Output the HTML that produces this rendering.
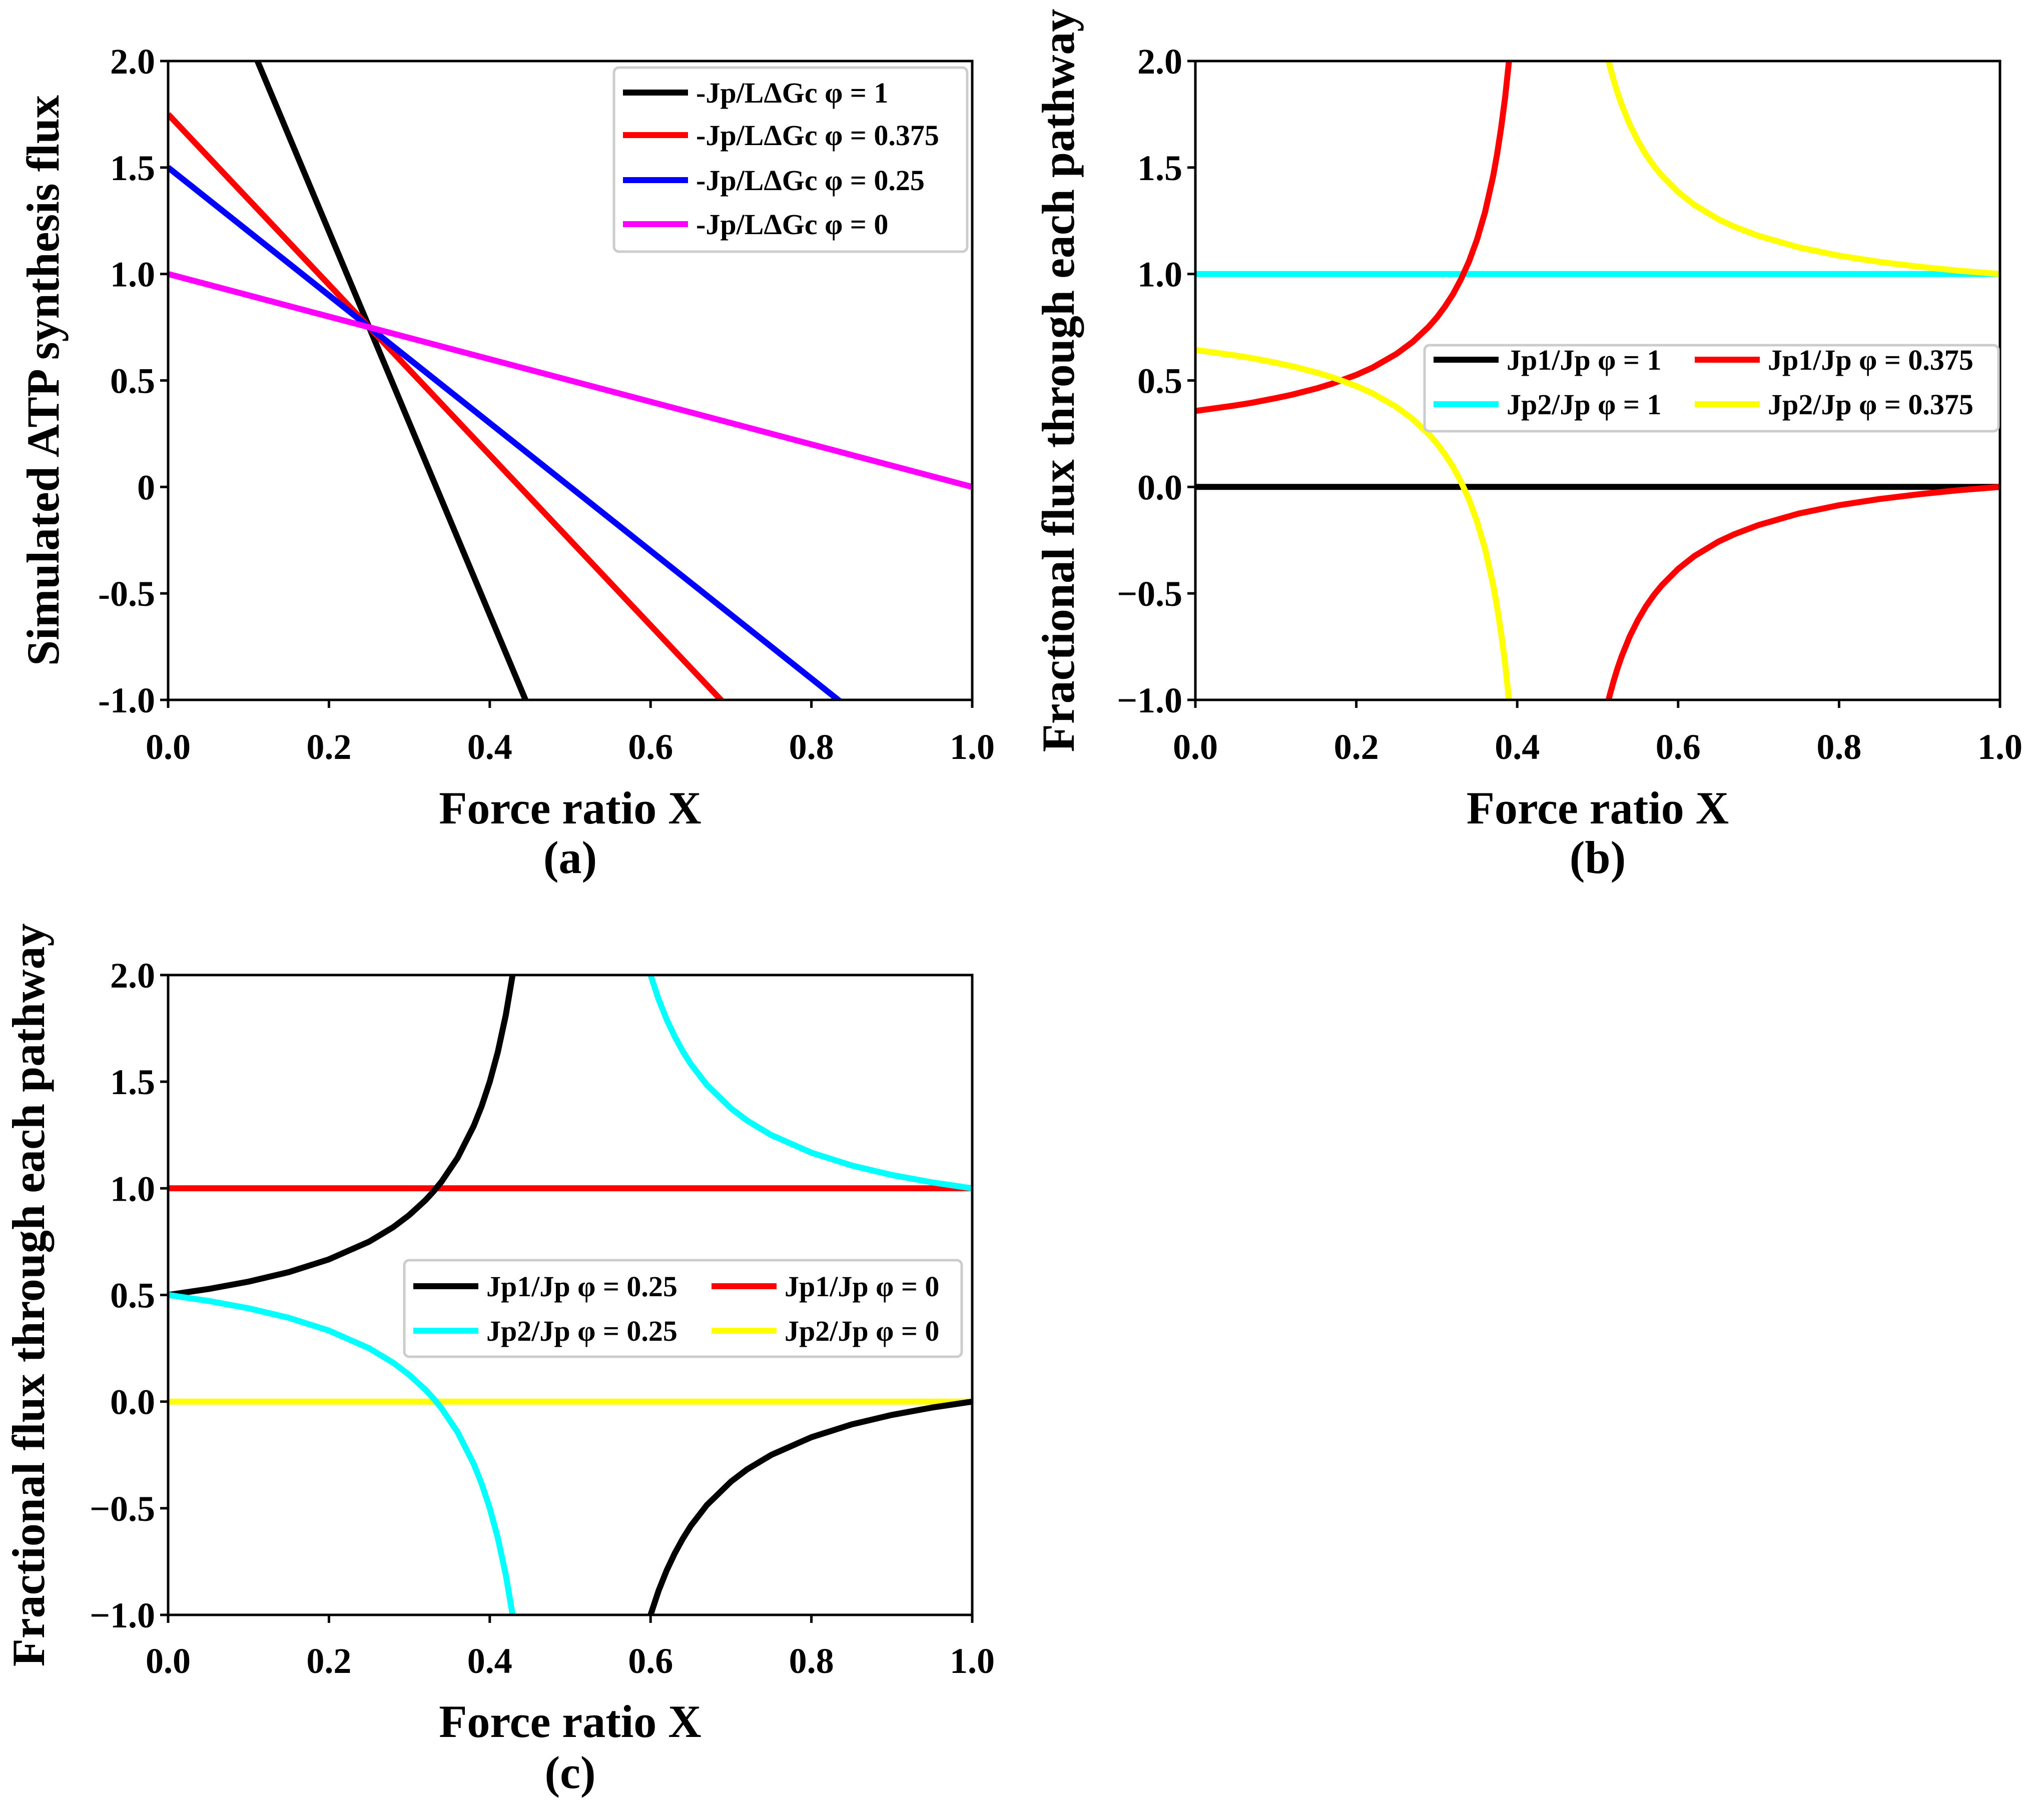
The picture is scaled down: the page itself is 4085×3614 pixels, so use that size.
<!DOCTYPE html>
<html><head><meta charset="utf-8">
<style>
html,body{margin:0;padding:0;background:#fff;}
svg{display:block;font-family:"Liberation Serif",serif;font-weight:bold;}
</style></head>
<body>
<svg id="fig" width="4085" height="3614" viewBox="0 0 4085 3614" xmlns="http://www.w3.org/2000/svg"></svg>
<script>
// ---- Panel (a) data: linear fluxes, endpoints (X, value)
const aX = [0, 1];
const aPhi1 = [3, -6];
const aPhi0375 = [1.75, -2.25];
const aPhi025 = [1.5, -1.5];
const aPhi0 = [1, 0];
const aYTicks = ["-1.0","-0.5","0","0.5","1.0","1.5","2.0"];
// ---- Panel (b) data, phi = 0.375
const bXLeft = [0,0.02,0.05,0.07,0.1,0.12,0.15,0.17,0.2,0.22,0.25,0.27,0.29,0.3,0.31,0.32,0.33,0.34,0.35,0.36,0.37,0.375,0.38,0.385,0.39];
const bJp1Left = [0.357,0.367,0.383,0.395,0.417,0.433,0.462,0.485,0.526,0.560,0.625,0.681,0.752,0.795,0.846,0.904,0.974,1.058,1.161,1.290,1.458,1.5625,1.685,1.830,2.007];
const bJp2Left = [0.643,0.633,0.617,0.605,0.583,0.567,0.538,0.515,0.474,0.440,0.375,0.319,0.248,0.205,0.154,0.096,0.026,-0.058,-0.161,-0.290,-0.458,-0.5625,-0.685,-0.830,-1.007];
const bXRight = [0.51,0.515,0.52,0.525,0.53,0.54,0.55,0.56,0.57,0.58,0.6,0.62,0.65,0.67,0.7,0.75,0.8,0.85,0.9,0.95,1.0];
const bJp1Right = [-1.056,-0.978,-0.909,-0.848,-0.794,-0.701,-0.625,-0.561,-0.507,-0.461,-0.385,-0.325,-0.257,-0.222,-0.179,-0.125,-0.086,-0.057,-0.034,-0.015,0];
const bJp2Right = [2.056,1.978,1.909,1.848,1.794,1.701,1.625,1.561,1.507,1.461,1.385,1.325,1.257,1.222,1.179,1.125,1.086,1.057,1.034,1.015,1.0];
const bXFlat = [0, 1];
const bJp1Phi1 = [0, 0];
const bJp2Phi1 = [1, 1];
// ---- Panel (c) data, phi = 0.25
const cXLeft = [0,0.05,0.1,0.15,0.2,0.25,0.28,0.3,0.32,0.33,0.34,0.36,0.38,0.39,0.4,0.41,0.42,0.43];
const cJp1Left = [0.5,0.528,0.5625,0.607,0.667,0.75,0.818,0.875,0.944,0.985,1.031,1.143,1.292,1.386,1.5,1.639,1.8125,2.036];
const cJp2Left = [0.5,0.472,0.4375,0.393,0.333,0.25,0.182,0.125,0.056,0.015,-0.031,-0.143,-0.292,-0.386,-0.5,-0.639,-0.8125,-1.036];
const cXRight = [0.6,0.61,0.62,0.63,0.64,0.65,0.67,0.7,0.72,0.75,0.8,0.85,0.9,0.95,1.0];
const cJp1Right = [-1.0,-0.886,-0.792,-0.712,-0.643,-0.583,-0.485,-0.375,-0.318,-0.25,-0.167,-0.107,-0.0625,-0.028,0];
const cJp2Right = [2.0,1.886,1.792,1.712,1.643,1.583,1.485,1.375,1.318,1.25,1.167,1.107,1.0625,1.028,1.0];
const cXFlat = [0, 1];
const cJp1Phi0 = [1, 1];
const cJp2Phi0 = [0, 0];
const bcYTicks = ["\u22121.0","\u22120.5","0.0","0.5","1.0","1.5","2.0"];
const xTicks = ["0.0","0.2","0.4","0.6","0.8","1.0"];

const NS = "http://www.w3.org/2000/svg";
const fig = document.getElementById('fig');
function mk(tag, attrs, parent){
  const e = document.createElementNS(NS, tag);
  for (const k in attrs) e.setAttribute(k, attrs[k]);
  (parent||fig).appendChild(e);
  return e;
}

function panel(id, L, R, T, B, yTicks, ylabel, ylabelX, title, tickY, labY, capY){
  const g = mk('g', {});
  
  
  const sx = v => L + (R - L) * v;
  const sy = v => B - (B - T) * (v + 1) / 3;
  const cp = mk('clipPath', {id: 'clip-' + id}, g);
  mk('rect', {x: L, y: T, width: R - L, height: B - T}, cp);
  const plot = mk('g', {'clip-path': 'url(#clip-' + id + ')'}, g);
  
  
  xTicks.forEach((t, i) => {
    const v = i * 0.2, x = sx(v);
    const tk = mk('line', {x1: x, x2: x, y1: B, y2: B + 16, stroke: '#000', 'stroke-width': 5}, g);
    
    
    const tx = mk('text', {x: x, y: tickY, 'font-size': 72, 'text-anchor': 'middle'}, g);
    tx.textContent = t;
    
    
  });
  yTicks.forEach((t, i) => {
    const v = -1 + i * 0.5, y = sy(v);
    const tk = mk('line', {x1: L - 16, x2: L, y1: y, y2: y, stroke: '#000', 'stroke-width': 5}, g);
    
    
    const tx = mk('text', {x: L - 26, y: y + 25, 'font-size': 72, 'text-anchor': 'end'}, g);
    tx.textContent = t;
    
    
  });
  const yl = mk('text', {x: ylabelX, y: (T + B) / 2, 'font-size': 92, 'text-anchor': 'middle',
    transform: 'rotate(-90 ' + ylabelX + ' ' + (T + B) / 2 + ')', 'dominant-baseline': 'central'}, g);
  yl.textContent = ylabel;
  
  
  const xl = mk('text', {x: (L + R) / 2, y: labY, 'font-size': 92, 'text-anchor': 'middle'}, g);
  xl.textContent = 'Force ratio X';
  
  
  const cap = mk('text', {x: (L + R) / 2, y: capY, 'font-size': 92, 'text-anchor': 'middle'}, g);
  cap.textContent = title;
  
  
  return {g, plot, sx, sy, L, R, T, B};
}
function series(p, xs, ys, color, name){
  const d = xs.map((x, i) => (i ? 'L' : 'M') + p.sx(x).toFixed(1) + ' ' + p.sy(ys[i]).toFixed(1)).join(' ');
  const e = mk('path', {d: d, fill: 'none', stroke: color, 'stroke-width': 12, 'stroke-linejoin': 'round'}, p.plot);
  
  
}
function frame(p){
  const e = mk('rect', {x: p.L, y: p.T, width: p.R - p.L, height: p.B - p.T, fill: 'none', stroke: '#000', 'stroke-width': 5}, p.g);
  
  
}
function legend(p, box, entries){
  const lg = mk('g', {}, p.g);
  
  
  mk('rect', {x: box[0], y: box[1], width: box[2], height: box[3], rx: 10, fill: 'rgba(255,255,255,0.85)', stroke: '#cccccc', 'stroke-width': 5}, lg);
  entries.forEach(en => {
    const eg = mk('g', {}, lg);
    
    
    mk('line', {x1: en[0], x2: en[0] + 130, y1: en[1], y2: en[1], stroke: en[2], 'stroke-width': 12}, eg);
    const t = mk('text', {x: en[0] + 146, y: en[1] + 20, 'font-size': 58}, eg);
    t.textContent = en[3];
  });
}

// Panel (a)
const pa = panel('a', 336, 1943, 122, 1399, aYTicks, 'Simulated ATP synthesis flux', 86, '(a)', 1517, 1646, 1745);
series(pa, aX, aPhi1, '#000000', 'line-phi-1');
series(pa, aX, aPhi0375, '#ff0000', 'line-phi-0.375');
series(pa, aX, aPhi025, '#0000ff', 'line-phi-0.25');
series(pa, aX, aPhi0, '#ff00ff', 'line-phi-0');
frame(pa);
legend(pa, [1227, 135, 706, 368], [
  [1245, 185, '#000000', '-Jp/L\u0394Gc \u03c6 = 1'],
  [1245, 270, '#ff0000', '-Jp/L\u0394Gc \u03c6 = 0.375'],
  [1245, 360, '#0000ff', '-Jp/L\u0394Gc \u03c6 = 0.25'],
  [1245, 448, '#ff00ff', '-Jp/L\u0394Gc \u03c6 = 0']
]);

// Panel (b)
const pb = panel('b', 2389, 3997, 122, 1399, bcYTicks, 'Fractional flux through each pathway', 2115, '(b)', 1517, 1646, 1745);
series(pb, bXFlat, bJp2Phi1, '#00ffff', 'jp2-phi-1');
series(pb, bXFlat, bJp1Phi1, '#000000', 'jp1-phi-1');
series(pb, bXLeft, bJp1Left, '#ff0000', 'jp1-phi-0.375-left');
series(pb, bXRight, bJp1Right, '#ff0000', 'jp1-phi-0.375-right');
series(pb, bXLeft, bJp2Left, '#ffff00', 'jp2-phi-0.375-left');
series(pb, bXRight, bJp2Right, '#ffff00', 'jp2-phi-0.375-right');
frame(pb);
legend(pb, [2847, 690, 1147, 172], [
  [2865, 719, '#000000', 'Jp1/Jp \u03c6 = 1'],
  [3387, 719, '#ff0000', 'Jp1/Jp \u03c6 = 0.375'],
  [2865, 808, '#00ffff', 'Jp2/Jp \u03c6 = 1'],
  [3387, 808, '#ffff00', 'Jp2/Jp \u03c6 = 0.375']
]);

// Panel (c)
const pc = panel('c', 336, 1943, 1949, 3228, bcYTicks, 'Fractional flux through each pathway', 57, '(c)', 3344, 3472, 3574);
series(pc, cXFlat, cJp1Phi0, '#ff0000', 'jp1-phi-0');
series(pc, cXFlat, cJp2Phi0, '#ffff00', 'jp2-phi-0');
series(pc, cXLeft, cJp1Left, '#000000', 'jp1-phi-0.25-left');
series(pc, cXRight, cJp1Right, '#000000', 'jp1-phi-0.25-right');
series(pc, cXLeft, cJp2Left, '#00ffff', 'jp2-phi-0.25-left');
series(pc, cXRight, cJp2Right, '#00ffff', 'jp2-phi-0.25-right');
frame(pc);
legend(pc, [808, 2519, 1114, 193], [
  [826, 2571, '#000000', 'Jp1/Jp \u03c6 = 0.25'],
  [1422, 2571, '#ff0000', 'Jp1/Jp \u03c6 = 0'],
  [826, 2660, '#00ffff', 'Jp2/Jp \u03c6 = 0.25'],
  [1422, 2660, '#ffff00', 'Jp2/Jp \u03c6 = 0']
]);
</script>
</body></html>
